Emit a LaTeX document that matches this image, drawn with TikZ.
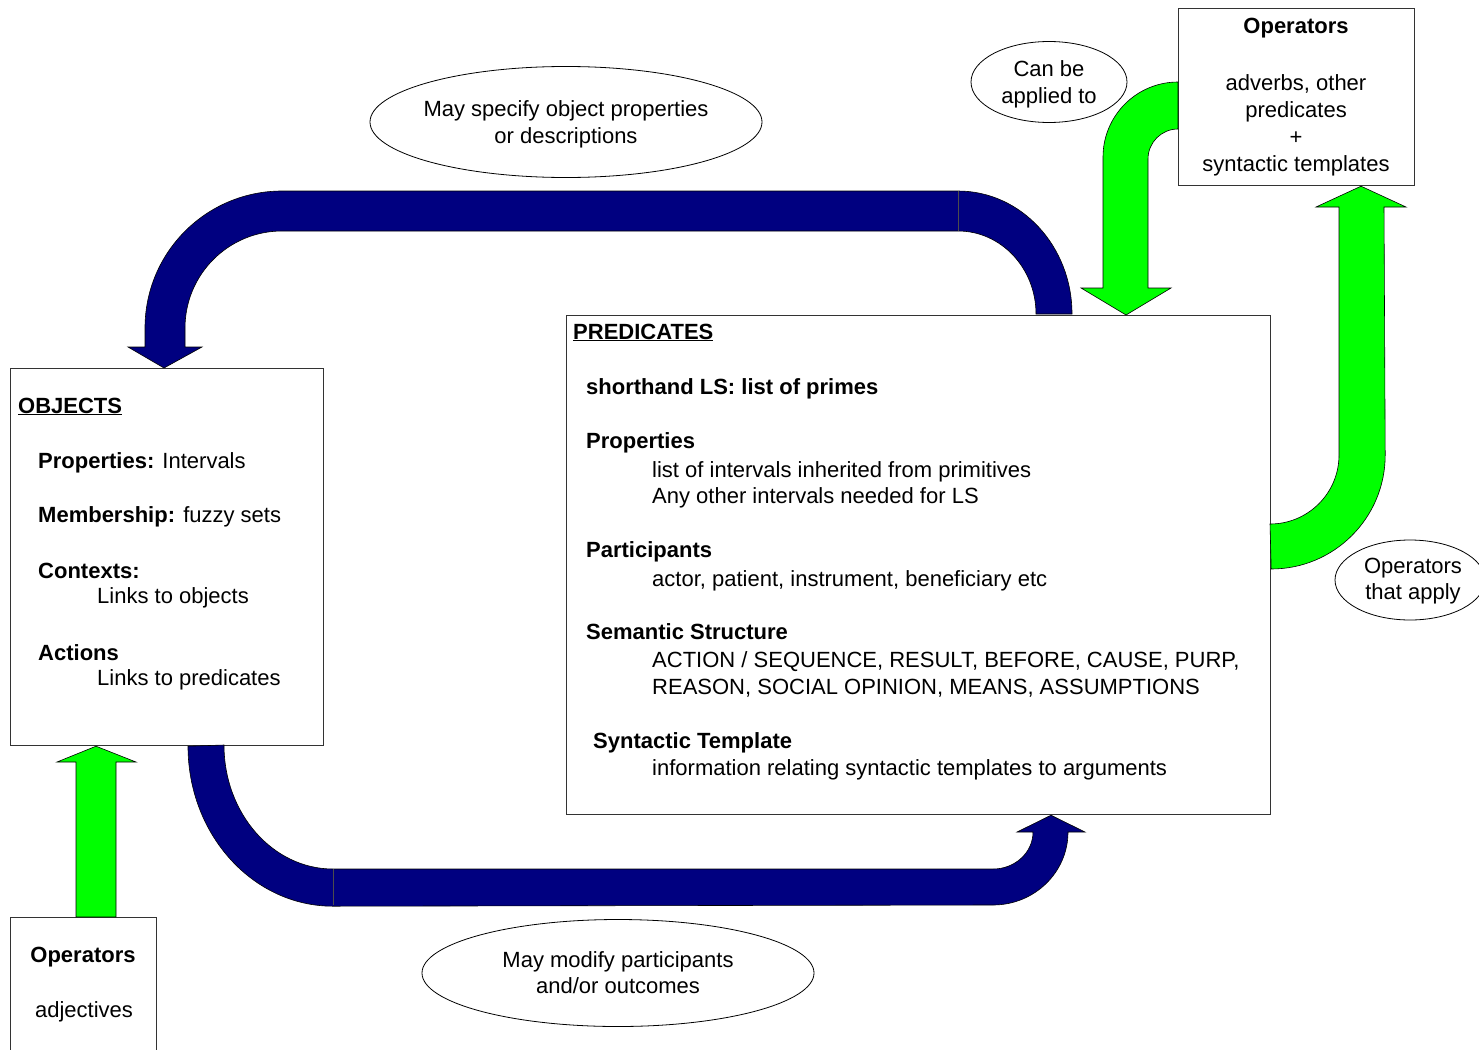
\documentclass[tikz,border=0pt]{standalone}
\usepackage{fontspec}
\setmainfont{Liberation Sans}
\usetikzlibrary{shapes.geometric,calc}
\definecolor{navyband}{RGB}{0,0,128}
\definecolor{limeband}{RGB}{0,255,0}

\begin{document}
\begin{tikzpicture}[
    x=1pt, y=-1pt,
    every node/.style={font=\fontsize{22}{27}\selectfont},
    box/.style={rectangle, draw=black!80, fill=white, line width=1.2pt, anchor=north west, inner sep=0pt},
    note/.style={ellipse, draw, line width=0.8pt, inner sep=0pt},
    txt/.style={anchor=base west, inner sep=0pt},
    ctr/.style={anchor=base, inner sep=0pt},
    bluearrow/.style={fill=navyband, draw=black, line width=0.6pt},
    greenarrow/.style={fill=limeband, draw=black, line width=0.6pt}
]
\useasboundingbox (0,0) rectangle (1479,1049);

% Boxes
\node[box, minimum width=313, minimum height=377] (obj) at (10,368) {};
\node[box, minimum width=704, minimum height=499] (pred) at (566,315) {};
\node[box, minimum width=236, minimum height=177] (opsTop) at (1178,8) {};
\node[box, minimum width=146, minimum height=160] (opsAdj) at (10,917) {};

% Objects text
\node[txt] (objTitle) at (18,413) {\underline{\textbf{OBJECTS}}};
\node[txt] (objProp) at (38,468) {\textbf{Properties:} Intervals};
\node[txt] (objMemb) at (38,522) {\textbf{Membership:} fuzzy sets};
\node[txt] (objCtx) at (38,578) {\textbf{Contexts:}};
\node[txt] (objCtxA) at (97,603) {Links to objects};
\node[txt] (objAct) at (38,660) {\textbf{Actions}};
\node[txt] (objActA) at (97,685) {Links to predicates};

% Predicates text
\node[txt] (predTitle) at (573,339) {\underline{\textbf{PREDICATES}}};
\node[txt] (predLS) at (586,394) {\textbf{shorthand LS: list of primes}};
\node[txt] (predProp) at (586,448) {\textbf{Properties}};
\node[txt] (predPropA) at (652,477) {list of intervals inherited from primitives};
\node[txt] (predPropB) at (652,503) {Any other intervals needed for LS};
\node[txt] (predPart) at (586,557) {\textbf{Participants}};
\node[txt] (predPartA) at (652,586) {actor, patient, instrument, beneficiary etc};
\node[txt] (predSem) at (586,639) {\textbf{Semantic Structure}};
\node[txt] (predSemA) at (652,667) {ACTION / SEQUENCE, RESULT, BEFORE, CAUSE, PURP,};
\node[txt] (predSemB) at (652,694) {REASON, SOCIAL OPINION, MEANS, ASSUMPTIONS};
\node[txt] (predSyn) at (593,748) {\textbf{Syntactic Template}};
\node[txt] (predSynA) at (652,775) {information relating syntactic templates to arguments};

% Operators text
\node[ctr] (opsTopTitle) at (1296,34) {\textbf{Operators}};
\node[ctr] (opsTopA) at (1296,90) {adverbs, other};
\node[ctr] (opsTopB) at (1296,117) {predicates};
\node[ctr] (opsTopPlus) at (1296,144) {+};
\node[ctr] (opsTopC) at (1296,171) {syntactic templates};
\node[ctr] (opsAdjTitle) at (83,962) {\textbf{Operators}};
\node[ctr] (opsAdjA) at (84,1017) {adjectives};

% Blue bands
\draw[bluearrow] (164,0 |- obj.north) -- (202,347) -- (185,347) -- (185,328)
    arc[start angle=180, end angle=270, radius=97] -- (958,231)
    arc[start angle=270, end angle=360, x radius=78, y radius=83] -- (1072,314)
    arc[start angle=0, end angle=-90, x radius=114, y radius=123] -- (282,191)
    arc[start angle=270, end angle=180, radius=137] -- (145,347) -- (128,347) -- cycle;
\draw[black!70] (958,191) -- (958,231);
\draw[bluearrow] (188,0 |- obj.south)
    arc[start angle=180, end angle=90, x radius=145, y radius=160] -- (993,905)
    arc[start angle=90, end angle=0, x radius=75, y radius=73] -- (1085,832)
    -- (1051,0 |- pred.south) -- (1017,832) -- (1033,832)
    arc[start angle=0, end angle=90, x radius=40, y radius=37] -- (333,869)
    arc[start angle=90, end angle=180, x radius=109, y radius=124] -- cycle;
\draw[black!70] (333,869) -- (333,905);

% Green arrows
\draw[greenarrow] (76,0 |- opsAdj.north) -- (76,762) -- (57,762) -- (96,0 |- obj.south)
    -- (136,762) -- (116,762) -- (116,0 |- opsAdj.north) -- cycle;
\draw[greenarrow] (0,82 -| opsTop.west) arc[start angle=270, end angle=180, radius=75]
    -- (1103,288) -- (1081,288) -- (1126,0 |- pred.north) -- (1171,288) -- (1148,288)
    -- (1148,159) arc[start angle=180, end angle=270, radius=30] -- cycle;
\draw[greenarrow] (pred.east |- 0,569) arc[start angle=90, end angle=0, radius=114]
    -- (1384,207) -- (1406,207) -- (1361,0 |- opsTop.south) -- (1316,207) -- (1339,207)
    -- (1339,455) arc[start angle=0, end angle=90, radius=69] -- cycle;

% Notes
\node[note, minimum width=392, minimum height=111] (specNote) at (566,122) {};
\node[ctr] (specA) at (566,116) {May specify object properties};
\node[ctr] (specB) at (566,143) {or descriptions};
\node[note, minimum width=156, minimum height=81] (applyNote) at (1049,82) {};
\node[ctr] (applyA) at (1049,77) {Can be};
\node[ctr] (applyB) at (1049,103) {applied to};
\node[note, minimum width=150, minimum height=80] (thatNote) at (1410,580) {};
\node[ctr] (thatA) at (1413,573) {Operators};
\node[ctr] (thatB) at (1413,599) {that apply};
\node[note, minimum width=392, minimum height=107] (modifyNote) at (618,973) {};
\node[ctr] (modifyA) at (618,967) {May modify participants};
\node[ctr] (modifyB) at (618,993) {and/or outcomes};

\end{tikzpicture}
\end{document}
